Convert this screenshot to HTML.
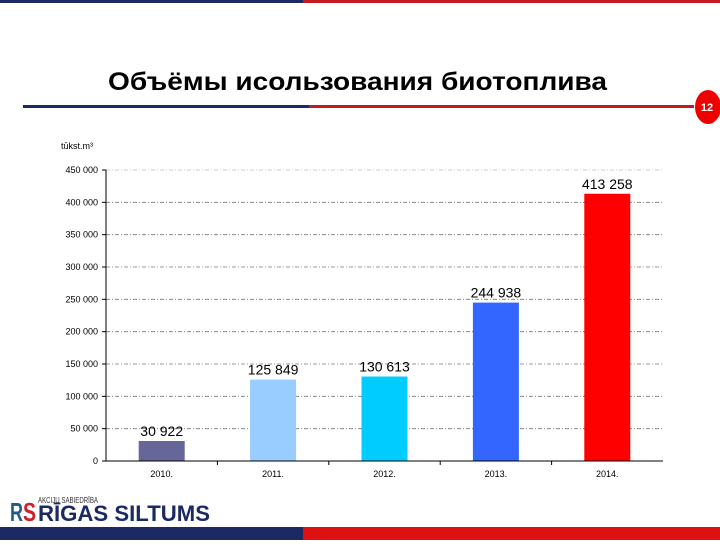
<!DOCTYPE html>
<html><head><meta charset="utf-8">
<style>
html,body{margin:0;padding:0;background:#fff;}
body{width:720px;height:540px;overflow:hidden;position:relative;font-family:"Liberation Sans","DejaVu Sans",sans-serif;}
</style></head>
<body>
<svg width="720" height="540" viewBox="0 0 720 540" xmlns="http://www.w3.org/2000/svg">
  <rect x="0" y="0" width="303" height="3" fill="#1c2a63"/>
  <rect x="303" y="0" width="417" height="3" fill="#c21a1f"/>
  <text x="108" y="90" font-size="25" font-weight="bold" fill="#000" textLength="499" lengthAdjust="spacingAndGlyphs">Объёмы исользования биотоплива</text>
  <rect x="23" y="105" width="286" height="3" fill="#1c2a63"/>
  <rect x="309" y="105" width="385" height="3" fill="#c21a1f"/>
  <ellipse cx="708" cy="107" rx="13" ry="17" fill="#ee0000"/>
  <text x="707" y="111" text-anchor="middle" font-size="11" font-weight="bold" fill="#fff">12</text>
  <text x="61" y="149" font-size="9" fill="#000">tūkst.m³</text>
  <g id="chart"></g>
  <text x="38" y="503" font-size="8" fill="#333" textLength="60" lengthAdjust="spacingAndGlyphs">AKCIJU SABIEDRĪBA</text>
  <text x="10" y="521" font-size="26" font-weight="bold" fill="#1f5a8a" textLength="13" lengthAdjust="spacingAndGlyphs">R</text>
  <text x="23" y="521" font-size="26" font-weight="bold" fill="#d0202a" textLength="13" lengthAdjust="spacingAndGlyphs">S</text>
  <text x="38" y="521" font-size="22" font-weight="bold" fill="#1c2a63" textLength="172" lengthAdjust="spacingAndGlyphs">RĪGAS SILTUMS</text>
  <rect x="0" y="527" width="303" height="13" fill="#1c2a63"/>
  <rect x="303" y="527" width="417" height="13" fill="#dd1111"/>
</svg>
<script>
const categories = ["2010.", "2011.", "2012.", "2013.", "2014."];
const values = [30922, 125849, 130613, 244938, 413258];
const valueLabels = ["30 922", "125 849", "130 613", "244 938", "413 258"];
const barColors = ["#666699", "#99ccff", "#00ccff", "#3366ff", "#ff0000"];
const yTicks = [0, 50000, 100000, 150000, 200000, 250000, 300000, 350000, 400000, 450000];
const yTickLabels = ["0", "50 000", "100 000", "150 000", "200 000", "250 000", "300 000", "350 000", "400 000", "450 000"];

const NS = "http://www.w3.org/2000/svg";
const g = document.getElementById("chart");
const x0 = 106, x1 = 663, yBase = 461, yTop = 170, yMax = 450000;
const bw = (x1 - x0) / categories.length;
function y(v){ return yBase - (v / yMax) * (yBase - yTop); }
function xc(i){ return x0 + bw * (i + 0.5); }
function mk(tag, attrs){ const e = document.createElementNS(NS, tag); for (const k in attrs) e.setAttribute(k, attrs[k]); g.appendChild(e); return e; }

yTicks.forEach((t, i) => {
  if (t > 0) {
    const l = mk("line", {x1: x0, x2: x1, y1: y(t), y2: y(t), stroke: t === yMax ? "#bbb" : "#777", "stroke-width": 0.8, "stroke-dasharray": "4 2 1 2"});
    
    
  }
  const tk = mk("line", {x1: x0 - 4, x2: x0, y1: y(t), y2: y(t), stroke: "#000", "stroke-width": 1});
  
  
  const tx = mk("text", {x: x0 - 8, y: y(t) + 3, "text-anchor": "end", "font-size": 9, fill: "#000"});
  tx.textContent = yTickLabels[i];
  
  
});

categories.forEach((c, i) => {
  const w = 46;
  const r = mk("rect", {x: xc(i) - w / 2, y: y(values[i]), width: w, height: yBase - y(values[i]), fill: barColors[i]});
  
  
  const vl = mk("text", {x: xc(i), y: y(values[i]) - 5, "text-anchor": "middle", "font-size": 14, fill: "#000"});
  vl.textContent = valueLabels[i];
  
  
  const cl = mk("text", {x: xc(i), y: yBase + 16, "text-anchor": "middle", "font-size": 9, fill: "#000"});
  cl.textContent = c;
  
  
  if (i > 0) {
    const ct = mk("line", {x1: x0 + bw * i, x2: x0 + bw * i, y1: yBase, y2: yBase + 4, stroke: "#000"});
    
    
  }
});

const ya = mk("line", {x1: x0, x2: x0, y1: yTop, y2: yBase, stroke: "#000", "stroke-width": 1});


const xa = mk("line", {x1: x0 - 4, x2: x1, y1: yBase, y2: yBase, stroke: "#000", "stroke-width": 1});


</script>
</body></html>
